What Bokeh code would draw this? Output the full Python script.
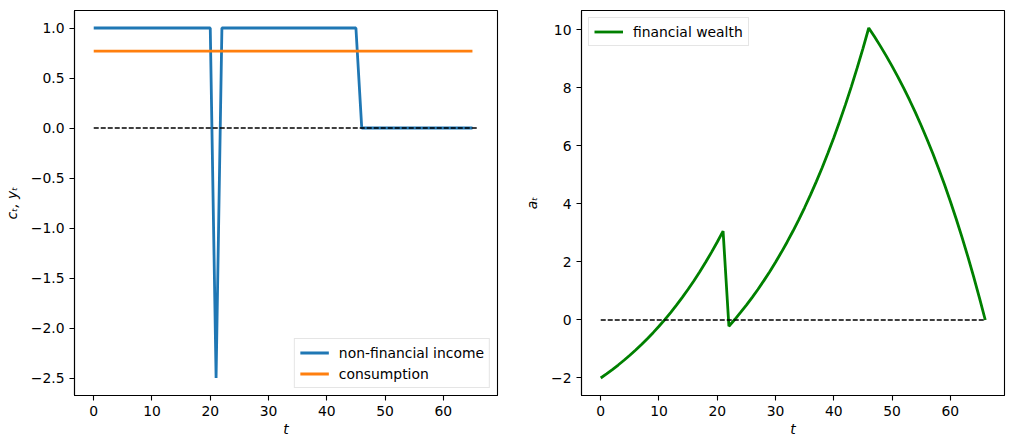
from bokeh.plotting import figure
from bokeh.layouts import row
from bokeh.models import Range1d, FixedTicker, Legend, LegendItem
from bokeh.embed import file_html
from bokeh.resources import INLINE

# ---- data ----
t_y = list(range(66))
income = [
    1, 1, 1, 1, 1, 1, 1, 1, 1, 1,
    1, 1, 1, 1, 1, 1, 1, 1, 1, 1,
    1, -2.5, 1, 1, 1, 1, 1, 1, 1, 1,
    1, 1, 1, 1, 1, 1, 1, 1, 1, 1,
    1, 1, 1, 1, 1, 1, 0, 0, 0, 0,
    0, 0, 0, 0, 0, 0, 0, 0, 0, 0,
    0, 0, 0, 0, 0, 0,
]
consumption = [
    0.7697, 0.7697, 0.7697, 0.7697, 0.7697, 0.7697, 0.7697, 0.7697, 0.7697, 0.7697,
    0.7697, 0.7697, 0.7697, 0.7697, 0.7697, 0.7697, 0.7697, 0.7697, 0.7697, 0.7697,
    0.7697, 0.7697, 0.7697, 0.7697, 0.7697, 0.7697, 0.7697, 0.7697, 0.7697, 0.7697,
    0.7697, 0.7697, 0.7697, 0.7697, 0.7697, 0.7697, 0.7697, 0.7697, 0.7697, 0.7697,
    0.7697, 0.7697, 0.7697, 0.7697, 0.7697, 0.7697, 0.7697, 0.7697, 0.7697, 0.7697,
    0.7697, 0.7697, 0.7697, 0.7697, 0.7697, 0.7697, 0.7697, 0.7697, 0.7697, 0.7697,
    0.7697, 0.7697, 0.7697, 0.7697, 0.7697, 0.7697,
]
t_a = list(range(67))
wealth = [
    -2.000, -1.858, -1.709, -1.553, -1.389, -1.217, -1.036, -0.846, -0.646, -0.437,
    -0.217, 0.015, 0.257, 0.512, 0.779, 1.060, 1.355, 1.664, 1.989, 2.331,
    2.689, 3.065, -0.215, 0.016, 0.259, 0.514, 0.781, 1.062, 1.357, 1.666,
    1.992, 2.333, 2.691, 3.068, 3.463, 3.878, 4.314, 4.771, 5.251, 5.756,
    6.285, 6.842, 7.425, 8.039, 8.682, 9.358, 10.068, 9.763, 9.443, 9.107,
    8.754, 8.384, 7.995, 7.586, 7.157, 6.707, 6.234, 5.738, 5.216, 4.669,
    4.094, 3.491, 2.857, 2.192, 1.493, 0.760, 0.0,
]
zero_x = [0, 66]
zero_y = [0, 0]

x_ticks = [0, 10, 20, 30, 40, 50, 60]
left_ticks = [-2.5, -2.0, -1.5, -1.0, -0.5, 0.0, 0.5, 1.0]
right_ticks = [-2, 0, 2, 4, 6, 8, 10]

FONT = "DejaVu Sans"
FS = "13.9px"


def fmt_minus(v, nd):
    s = f"{v:.{nd}f}"
    return s.replace("-", "\u2212")


def style(p, yticks, ynd):
    p.xaxis.ticker = FixedTicker(ticks=x_ticks)
    p.yaxis.ticker = FixedTicker(ticks=yticks)
    p.yaxis.major_label_overrides = {v: fmt_minus(v, ynd) for v in yticks}
    p.xgrid.visible = False
    p.ygrid.visible = False
    p.outline_line_color = "black"
    p.outline_line_width = 1.1
    for ax in (p.xaxis, p.yaxis):
        ax.axis_line_color = "black"
        ax.axis_line_width = 1.1
        ax.major_tick_line_color = "black"
        ax.major_tick_line_width = 1.1
        ax.major_tick_out = 5
        ax.major_tick_in = 0
        ax.minor_tick_line_color = None
        ax.major_label_text_font = FONT
        ax.major_label_text_font_size = FS
        ax.major_label_text_color = "black"
        ax.major_label_standoff = 5
        ax.axis_label_text_font = FONT
        ax.axis_label_text_font_size = FS
        ax.axis_label_text_font_style = "italic"
        ax.axis_label_text_color = "black"
    p.xaxis.axis_label_standoff = 2
    p.yaxis.axis_label_standoff = 8
    p.background_fill_color = "white"
    p.border_fill_color = "white"


def make_legend(items, loc):
    lg = Legend(items=items, location=loc)
    lg.label_text_font = FONT
    lg.label_text_font_size = FS
    lg.label_text_color = "black"
    lg.glyph_width = 29
    lg.glyph_height = 17
    lg.label_height = 17
    lg.label_standoff = 10
    lg.padding = 5
    lg.spacing = 4
    lg.margin = 7
    lg.border_line_color = "#cccccc"
    lg.border_line_width = 1
    lg.background_fill_color = "white"
    lg.background_fill_alpha = 0.8
    return lg


# ---- left panel ----
p1 = figure(frame_width=423, frame_height=385,
            min_border_left=65, min_border_right=8, min_border_top=10, min_border_bottom=38,
            x_range=Range1d(-3.3, 69.3), y_range=Range1d(-2.675, 1.175),
            output_backend="svg", toolbar_location=None)
r_inc = p1.line(t_y, income, line_color="#1f77b4", line_width=2.8)
r_con = p1.line(t_y, consumption, line_color="#ff7f0e", line_width=2.8)
p1.line(zero_x, zero_y, line_color="black", line_width=1.4, line_dash="5 2")
p1.xaxis.axis_label = "t"
p1.yaxis.axis_label = "cₜ, yₜ"
style(p1, left_ticks, 1)
p1.add_layout(make_legend([LegendItem(label="non-financial income", renderers=[r_inc]),
                           LegendItem(label="consumption", renderers=[r_con])],
                          "bottom_right"))

# ---- right panel ----
p2 = figure(frame_width=423, frame_height=385,
            min_border_left=76, min_border_right=2, min_border_top=10, min_border_bottom=38,
            x_range=Range1d(-3.3, 69.3), y_range=Range1d(-2.6034, 10.6712),
            output_backend="svg", toolbar_location=None)
r_w = p2.line(t_a, wealth, line_color="green", line_width=2.8)
p2.line(zero_x, zero_y, line_color="black", line_width=1.4, line_dash="5 2")
p2.xaxis.axis_label = "t"
p2.yaxis.axis_label = "aₜ"
style(p2, right_ticks, 0)
p2.add_layout(make_legend([LegendItem(label="financial wealth", renderers=[r_w])],
                          "top_left"))

layout = row(p1, p2)
open("out.html", "w").write(file_html(layout, INLINE))
